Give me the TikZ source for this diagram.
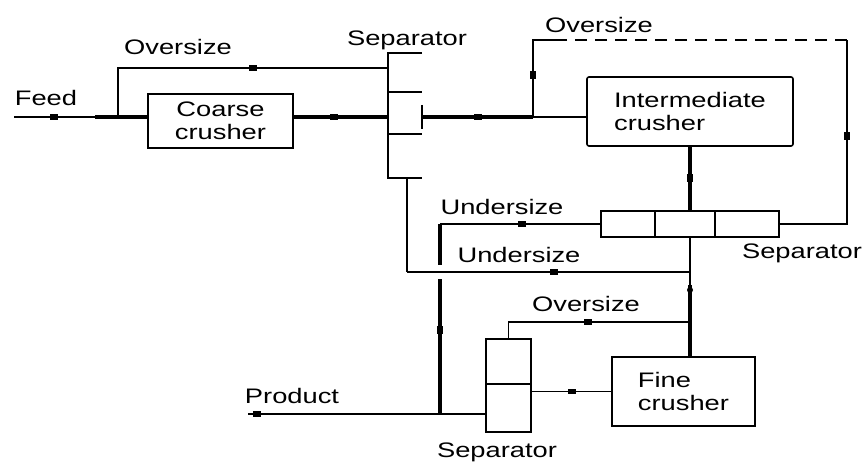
\documentclass[tikz,border=0pt]{standalone}
\usepackage{fontspec}
\setmainfont{Liberation Sans}
\usepackage{graphicx}
\usetikzlibrary{calc}
\newcommand{\tx}[1]{\scalebox{1.3}[1]{#1}}
\begin{document}
\begin{tikzpicture}[x=1pt,y=-1pt,
  thinl/.style={line width=1.6pt},
  midl/.style={line width=2.2pt},
  thickl/.style={line width=3.2pt},
  box/.style={draw, line width=1.6pt, rectangle, inner sep=0pt, font=\fontsize{21}{23}\selectfont},
  lbl/.style={font=\fontsize{21}{23}\selectfont, inner sep=0pt},
  mk/.style={fill, rectangle, inner sep=0pt, minimum width=8pt, minimum height=5.5pt, sloped}
]
\useasboundingbox (0,0) rectangle (863,462);
\fill[white] (0,0) rectangle (863,462);

% units
\node[box, minimum width=145pt, minimum height=54pt, align=center] (coarse) at (220.5,121) {\tx{Coarse}\\\tx{crusher}};
\node[box, rounded corners=2pt, minimum width=206pt, minimum height=69pt, align=left] (inter) at (690,111.5) {\tx{Intermediate}\\\tx{crusher}};
\node[box, minimum width=143pt, minimum height=69pt, align=left, text depth=0pt] (fine) at (683.5,391.5) {\tx{Fine}\\\tx{crusher}};
\node[minimum width=34pt, minimum height=125pt, inner sep=0pt] (sep1) at (405,115.5) {};
\node[box, minimum width=178pt, minimum height=26pt] (sep2) at (690,224) {};
\node[box, minimum width=45pt, minimum height=93pt] (sep3) at (508.5,385.5) {};

% separator details
\draw[thinl] (sep1.north east) -- (sep1.north west) -- (sep1.south west) -- (sep1.south east);
\draw[thinl] (388,92) -- (422,92) (388,134) -- (422,134) (422,105) -- (422,129);
\draw[thinl] (655,211) -- (655,237) (715,211) -- (715,237);
\draw[thinl] (486,384) -- (531,384);

% coordinates
\coordinate (feed) at (14,117);
\coordinate (j0) at (95,117);
\coordinate (j1) at (118,117);
\coordinate (j1t) at (118,68);
\coordinate (s1o) at (422,117);
\coordinate (j2) at (533,117);
\coordinate (j2t) at (533,40);
\coordinate (j2d) at (560,40);
\coordinate (rt) at (847,40);
\coordinate (rb) at (847,224);
\coordinate (u1) at (440,224);
\coordinate (j3) at (690,272);
\coordinate (j4) at (407,272);
\coordinate (j5) at (690,322);
\coordinate (j6) at (508.5,322);
\coordinate (j7) at (690,285);
\coordinate (prod) at (248,414);

% feed and coarse crusher
\draw[thinl] (feed) -- (coarse.west |- feed) node[mk,pos=0.3]{};
\draw[thickl] (j0) -- (coarse.west |- feed);
\draw[thinl] (j1) -- (j1t) -- (sep1.west |- j1t) node[mk,pos=0.5]{};
\draw[thickl] (coarse.east |- feed) -- (sep1.west |- feed) node[mk,pos=0.43]{};

% separator 1 to intermediate crusher
\draw[thinl] (s1o) -- (inter.west |- s1o);
\draw[thickl] (s1o) -- (j2) node[mk,pos=0.5]{};

% oversize loop from separator 2
\draw[thinl] (sep2.east) -- (rb) -- (rt) node[mk,pos=0.48]{};
\draw[thinl, dash pattern=on 12pt off 8pt] (rt) -- (j2d);
\draw[thinl] (j2d) -- (j2t) -- (j2) node[mk,pos=0.45]{};

% intermediate crusher to separator 2
\draw[thickl] (inter.south) -- (sep2.north) node[mk,pos=0.5]{};

% undersize upper
\draw[thinl] (sep2.west) -- (u1) node[mk,pos=0.49]{};
\draw[thickl] (u1) -- (u1 |- prod) node[mk,pos=0.56]{};

% undersize lower
\draw[thinl, preaction={draw=white, line width=14pt}] (j3) -- (j4) node[mk,pos=0.48]{};
\draw[thinl] (j4) -- (j4 |- sep1.south);
\draw[thinl] (sep2.south) -- (j3) -- (j3 |- fine.north);
\draw[thickl] (j7) -- (j7 |- fine.north);
\fill (690,290) circle (3pt);

% oversize lower
\draw[thinl] (sep3.north) -- (j6) -- (j5) node[mk,pos=0.44]{};

% fine crusher to separator 3
\draw[thinl] (fine.west) -- (sep3.east |- fine.west) node[mk,pos=0.49]{};

% product
\draw[midl] (sep3.west |- prod) -- (prod) node[mk,pos=0.96]{};

% labels
\node[lbl] (lfeed) at (46,98) {\tx{Feed}};
\node[lbl] (lov1) at (178,47) {\tx{Oversize}};
\node[lbl] (lsep1) at (407,40) {\tx{Separator}};
\node[lbl] (lov2) at (599,25) {\tx{Oversize}};
\node[lbl] (lun1) at (502,207) {\tx{Undersize}};
\node[lbl] (lun2) at (519,255) {\tx{Undersize}};
\node[lbl] (lsep2) at (802,253) {\tx{Separator}};
\node[lbl] (lov3) at (586,304) {\tx{Oversize}};
\node[lbl] (lprod) at (292,396) {\tx{Product}};
\node[lbl] (lsep3) at (497,452) {\tx{Separator}};
\end{tikzpicture}
\end{document}
